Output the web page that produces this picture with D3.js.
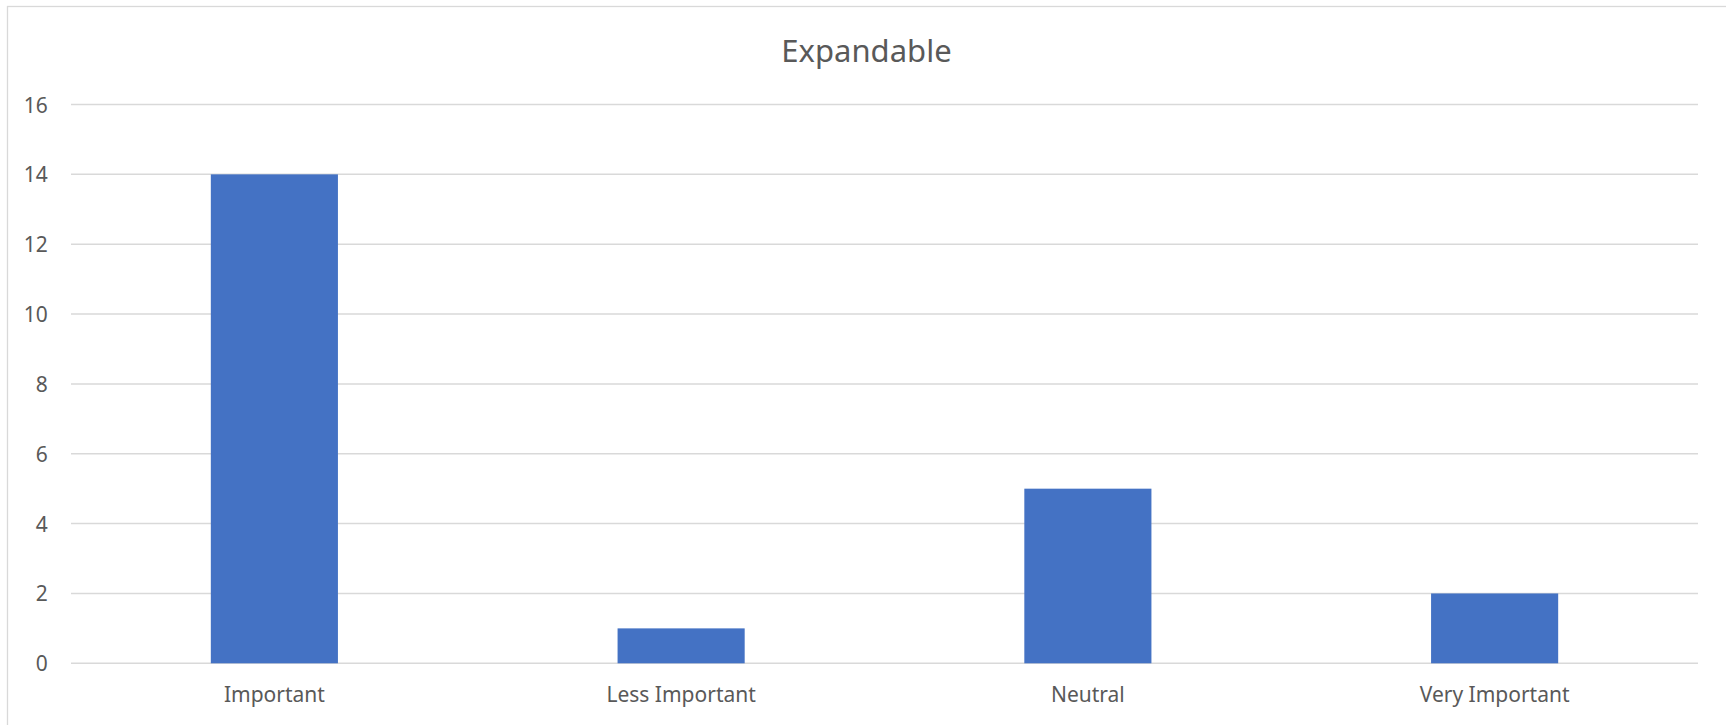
<!DOCTYPE html>
<html>
<head>
<meta charset="utf-8">
<script src="https://cdn.jsdelivr.net/npm/d3@7"></script>
<style>
  html, body { margin: 0; padding: 0; background: #fff; }
  svg { display: block; }
  text { font-family: "Noto Sans", "Open Sans", sans-serif; fill: #595959; }
</style>
</head>
<body>
<svg id="chart" width="1726" height="725"></svg>
<script>
// Survey responses for the "Expandable" criterion
const chartTitle = "Expandable";
const categories = ["Important", "Less Important", "Neutral", "Very Important"];
const counts = [14, 1, 5, 2];
const yTicks = [0, 2, 4, 6, 8, 10, 12, 14, 16];

const W = 1726, H = 725;
const plot = { left: 71, right: 1698, top: 104.5, bottom: 663.3 };

const svg = d3.select("#chart");

// chart area frame
svg.append("rect")
  .attr("x", 7.5).attr("y", 6.5)
  .attr("width", W + 10).attr("height", H + 10)
  .attr("fill", "#fff")
  .attr("stroke", "#d9d9d9")
  .attr("stroke-width", 1.3);

const x = d3.scaleBand()
  .domain(categories)
  .range([plot.left, plot.right])
  .paddingInner(0.6875)
  .paddingOuter(0.34375);

const y = d3.scaleLinear()
  .domain([0, 16])
  .range([plot.bottom, plot.top]);

// horizontal gridlines
svg.append("g")
  .selectAll("line")
  .data(yTicks)
  .join("line")
  .attr("x1", plot.left).attr("x2", plot.right)
  .attr("y1", d => y(d)).attr("y2", d => y(d))
  .attr("stroke", "#d9d9d9")
  .attr("stroke-width", 1.5);

// value axis labels
const yAxis = d3.axisLeft(y).tickValues(yTicks).tickSize(0).tickPadding(23.3);
const gy = svg.append("g")
  .attr("transform", `translate(${plot.left},0.8)`)
  .call(yAxis);
gy.select(".domain").remove();
gy.selectAll("text")
  .style("font-family", '"Noto Sans", "Open Sans", sans-serif')
  .style("font-size", "21px")
  .attr("fill", "#595959");

// bars
svg.append("g")
  .selectAll("rect")
  .data(categories.map((c, i) => ({ c, v: counts[i] })))
  .join("rect")
  .attr("x", d => x(d.c))
  .attr("width", x.bandwidth())
  .attr("y", d => y(d.v))
  .attr("height", d => y(0) - y(d.v))
  .attr("fill", "#4472c4");

// category axis labels
const xAxis = d3.axisBottom(x).tickSize(0).tickPadding(24);
const gx = svg.append("g")
  .attr("transform", `translate(0,${plot.bottom})`)
  .call(xAxis);
gx.select(".domain").remove();
gx.selectAll("text")
  .style("font-family", '"Noto Sans", "Open Sans", sans-serif')
  .style("font-size", "21px")
  .attr("fill", "#595959");

// title
svg.append("text")
  .attr("x", (7 + W) / 2)
  .attr("y", 61.7)
  .attr("text-anchor", "middle")
  .style("font-size", "31px")
  .text(chartTitle);
</script>
</body>
</html>
